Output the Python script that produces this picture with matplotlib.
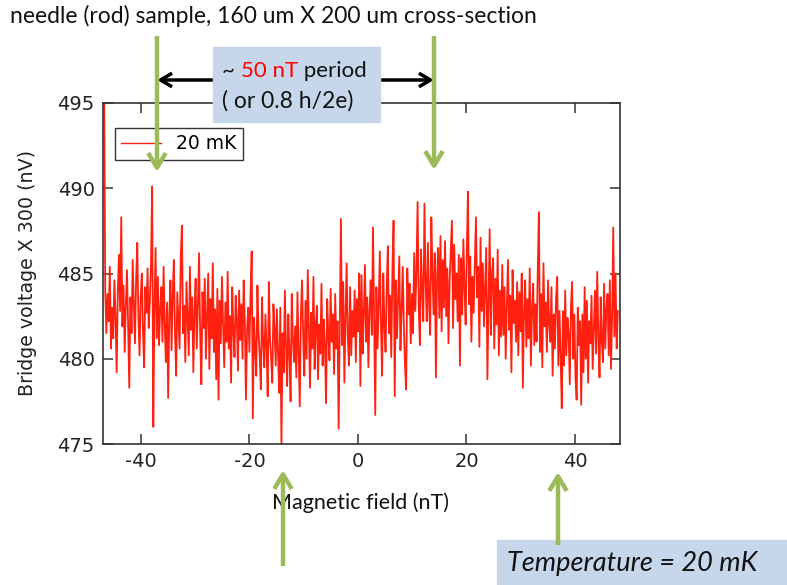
import numpy as np
import matplotlib
matplotlib.use("Agg")
import matplotlib.pyplot as plt
from matplotlib.patches import FancyArrowPatch, Rectangle

plt.rcParams["axes.unicode_minus"] = False

# ---- data -------------------------------------------------------------
field_start, field_stop = -46.8, 47.9          # nT, sweep end points
x_ticks = [-40, -20, 0, 20, 40]
y_ticks = [475, 480, 485, 490, 495]
series_label = "20 mK"

# bridge voltage x 300 (nV), one reading per field step
voltage = [
    497.0, 484.0, 481.5, 483.8, 482.2, 485.4, 480.6, 483.0, 481.2, 484.6,
    482.5, 479.2, 484.0, 486.1, 482.8, 488.3, 481.9, 484.3, 480.4, 483.1,
    485.2, 482.0, 478.3, 483.6, 481.5, 485.8, 483.2, 480.9, 484.7, 486.8,
    482.4, 480.2, 483.7, 485.0, 481.6, 479.5, 484.2, 482.7, 485.3, 481.8,
    483.4, 485.6, 490.1, 476.0, 483.0, 486.5, 481.2, 484.8, 480.8, 482.9,
    484.2, 481.0, 485.4, 482.0, 479.8, 483.3, 477.7, 482.6, 484.6, 480.5,
    483.8, 485.8, 481.4, 479.0, 483.9, 482.2, 480.6, 486.0, 487.8, 481.5,
    483.1, 479.8, 484.5, 482.3, 480.2, 485.4, 481.7, 483.6, 479.2, 482.8,
    484.7, 480.6, 483.2, 486.2, 481.3, 478.5, 483.9, 481.8, 484.7, 480.0,
    482.6, 485.0, 479.4, 483.5, 481.2, 485.6, 480.4, 482.9, 478.8, 484.1,
    477.6, 483.4, 480.9, 484.8, 482.0, 479.5, 483.3, 481.0, 485.1, 480.6,
    482.5, 478.6, 484.2, 481.6, 480.1, 483.7, 482.4, 479.3, 484.0, 481.1,
    483.2, 480.0, 484.6, 482.1, 477.6, 481.8, 483.0, 480.4, 483.9, 486.3,
    476.5, 482.4, 480.6, 479.0, 484.3, 481.5, 480.2, 478.2, 483.6, 481.0,
    479.5, 482.6, 480.7, 477.8, 484.5, 481.2, 480.0, 478.6, 483.2, 481.7,
    479.6, 482.9, 480.3, 478.0, 483.0, 474.8, 481.5, 479.2, 484.0, 480.8,
    478.4, 482.6, 480.3, 477.5, 483.8, 481.2, 479.8, 481.9, 478.9, 483.9,
    480.4, 477.2, 482.5, 484.6, 481.3, 479.0, 483.4, 480.0, 485.2, 481.6,
    478.3, 482.7, 480.6, 484.8, 479.4, 481.9, 483.1, 478.8, 482.0, 480.3,
    484.4, 479.6, 482.3, 480.8, 477.4, 483.5, 481.4, 479.9, 484.1, 481.0,
    482.6, 479.1, 483.8, 480.6, 482.2, 475.9, 481.8, 488.2, 480.8, 484.5,
    478.6, 482.4, 485.6, 481.2, 479.6, 484.2, 480.2, 482.8, 481.3, 484.0,
    479.8, 483.5, 481.6, 485.0, 478.4, 484.9, 480.3, 482.7, 485.5, 481.0,
    483.6, 479.5, 482.9, 484.6, 481.4, 487.7, 482.5, 476.7, 484.2, 480.6,
    483.0, 486.3, 481.8, 479.0, 485.0, 482.0, 480.4, 484.2, 486.6, 481.5,
    483.7, 480.1, 485.2, 488.1, 477.8, 484.6, 481.2, 483.5, 486.0, 480.5,
    482.8, 485.4, 481.9, 479.6, 478.2, 485.3, 482.6, 484.4, 480.9, 483.8,
    481.5, 486.2, 482.8, 485.1, 489.2, 483.0, 480.8, 486.4, 484.0, 482.2,
    489.1, 484.6, 482.2, 486.8, 483.3, 481.4, 488.3, 485.0, 482.6, 486.2,
    478.9, 484.7, 486.5, 482.4, 487.2, 481.6, 485.8, 483.0, 486.9, 482.5,
    485.3, 480.9, 484.6, 486.4, 488.1, 481.8, 486.7, 483.5, 485.0, 482.2,
    486.1, 479.6, 485.9, 482.6, 487.0, 484.2, 482.0, 486.3, 489.8, 483.2,
    486.0, 481.0, 484.8, 482.7, 485.6, 488.3, 483.6, 485.4, 480.7, 487.1,
    482.8, 485.6, 481.9, 484.3, 486.5, 478.8, 483.2, 487.6, 481.4, 484.9,
    485.9, 480.6, 484.7, 482.0, 486.4, 480.2, 484.0, 481.3, 485.5, 481.4,
    484.2, 480.0, 483.1, 485.8, 481.7, 483.7, 479.2, 485.2, 482.1, 483.4,
    481.0, 484.5, 480.2, 483.9, 481.6, 485.0, 478.3, 482.8, 484.6, 480.7,
    483.5, 481.2, 485.3, 479.6, 482.9, 484.4, 480.8, 483.2, 481.0, 485.1,
    488.6, 480.4, 483.8, 479.5, 485.6, 481.9, 483.3, 480.4, 484.6, 482.0,
    481.0, 484.2, 479.0, 482.6, 480.6, 483.5, 484.8, 479.6, 482.8, 480.1,
    477.1, 482.8, 479.6, 484.0, 480.2, 482.4, 481.5, 478.5, 483.0, 484.5,
    480.0, 482.6, 478.9, 477.6, 483.0, 480.8, 482.2, 477.3, 482.6, 479.2,
    484.2, 480.0, 483.4, 478.6, 482.2, 480.9, 483.7, 479.4, 481.8, 484.0,
    480.3, 485.1, 481.2, 478.9, 483.6, 481.0, 479.8, 484.4, 480.6, 482.9,
    483.8, 480.2, 484.6, 479.4, 482.5, 487.7, 481.3, 485.0, 480.6, 482.8,
]

field = np.linspace(field_start, field_stop, len(voltage))

# ---- figure -----------------------------------------------------------
W, H = 787, 585
fig = plt.figure(figsize=(W / 100, H / 100), dpi=100)


def fx(px):
    return px / W


def fy(py):
    return 1 - py / H


SLIDE_FONT = ["Lato", "DejaVu Sans"]
GREEN = "#9bbb59"
BOX = "#c6d7eb"

ax = fig.add_axes([fx(103), fy(444), 517 / W, 341 / H])
ax.plot(field, voltage, color="#ff2010", lw=1.3, label=series_label)
ax.set_xlim(-47, 48.3)
ax.set_ylim(475, 495)
ax.set_xticks(x_ticks)
ax.set_yticks(y_ticks)
ax.tick_params(direction="in", length=7, width=1.1, top=True, right=True,
               labelsize=14, color="#333333", labelcolor="#222222", pad=6)
for s in ax.spines.values():
    s.set_color("#333333")
    s.set_linewidth(1.2)

ax.set_ylabel("Bridge voltage X 300 (nV)", fontsize=13.7, color="#222222",
              labelpad=15)

leg = ax.legend(loc="upper left", bbox_to_anchor=(0.023, 0.927),
                borderaxespad=0, fancybox=False, framealpha=1,
                edgecolor="#333333", fontsize=13.5, handlelength=2.1,
                borderpad=0.35, handletextpad=0.8)
leg.get_frame().set_linewidth(1.0)
for h in leg.get_lines():
    h.set_linewidth(1.0)

# x-axis label
fig.text(fx(361), fy(503), "Magnetic field (nT)", family=SLIDE_FONT,
         fontsize=15.5, ha="center", va="center", color="#111111")

# title line
fig.text(fx(10), fy(16), "needle (rod) sample, 160 um X 200 um cross-section",
         family=SLIDE_FONT, fontsize=16.5, ha="left", va="center",
         color="#111111")


def arrow(p0, p1, color, lw, style, z):
    a = FancyArrowPatch((fx(p0[0]), fy(p0[1])), (fx(p1[0]), fy(p1[1])),
                        transform=fig.transFigure, arrowstyle=style,
                        mutation_scale=14, color=color, lw=lw, zorder=z,
                        shrinkA=0, shrinkB=0, capstyle="butt")
    fig.add_artist(a)


# period marker
arrow((157, 80), (434, 80), "black", 2.5,
      "<->,head_length=0.6,head_width=0.35", 6)
fig.add_artist(Rectangle((fx(213), fy(122)), 167 / W, 75 / H,
                         transform=fig.transFigure, color=BOX, zorder=7))

# green pointers
green_style = "->,head_length=0.75,head_width=0.45"
arrow((157, 36), (157, 172), GREEN, 3.2, green_style, 8)
arrow((434, 36), (434, 170), GREEN, 3.2, green_style, 8)
arrow((283, 566), (283, 470), GREEN, 3.2, green_style, 8)
arrow((558, 545), (558, 472), GREEN, 3.2, green_style, 8)

# temperature box
fig.add_artist(Rectangle((fx(497), 0), 290 / W, 45 / H,
                         transform=fig.transFigure, color=BOX, zorder=7))
fig.text(fx(507), fy(563), "Temperature = 20 mK", family=SLIDE_FONT,
         style="italic", fontsize=19.5, ha="left", va="center",
         color="#111111", zorder=9)

# period text with coloured value
renderer = fig.canvas.get_renderer()
x_cur = fx(222)
for piece, col in [("~ ", "#111111"), ("50 nT", "#ff0000"),
                   (" period", "#111111")]:
    t = fig.text(x_cur, fy(71), piece, color=col, family=SLIDE_FONT,
                 fontsize=16, ha="left", va="center", zorder=9)
    x_cur = t.get_window_extent(renderer).x1 / W
fig.text(fx(222), fy(101), "( or 0.8 h/2e)", family=SLIDE_FONT,
         fontsize=16.5, ha="left", va="center", color="#111111", zorder=9)

fig.savefig("out.png", dpi=100)
